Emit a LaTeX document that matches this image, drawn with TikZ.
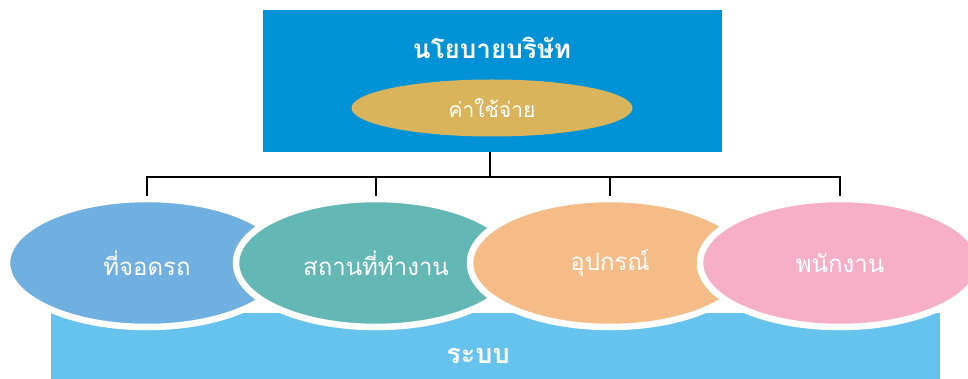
\documentclass[tikz,border=0pt]{standalone}
\usepackage{fontspec}
\newfontfamily\thaifont[Script=Thai]{Loma}
\usetikzlibrary{shapes.geometric}
\definecolor{policyblue}{RGB}{0,146,214}
\definecolor{costgold}{RGB}{218,180,90}
\definecolor{systemblue}{RGB}{102,195,238}
\definecolor{parkblue}{RGB}{112,176,224}
\definecolor{officeteal}{RGB}{99,183,180}
\definecolor{equiporange}{RGB}{245,188,135}
\definecolor{staffpink}{RGB}{247,175,200}
\tikzset{
  area/.style={ellipse,minimum width=280pt,minimum height=128pt,inner sep=0pt,
    draw=white,line width=6.5pt,text=white,font=\thaifont\fontsize{24}{28}\selectfont},
  link/.style={black,line width=1.6pt}
}

\begin{document}
\begin{tikzpicture}[x=1pt,y=-1pt]
\useasboundingbox (0,0) rectangle (968,379);
  % top box and bottom box
  \node[fill=policyblue,minimum width=459pt,minimum height=142pt,inner sep=0pt,anchor=north west] (policy) at (263,10) {};
  \node[text=white,font=\thaifont\bfseries\fontsize{26}{30}\selectfont] (policytext) at (492,48) {นโยบายบริษัท};
  \node[ellipse,fill=costgold,minimum width=281pt,minimum height=57pt,inner sep=0pt,
    text=white,font=\thaifont\fontsize{21}{26}\selectfont] (cost) at (492,108) {ค่าใช้จ่าย};
  \node[fill=systemblue,minimum width=889pt,minimum height=66pt,inner sep=0pt,anchor=north west] (system) at (51,313) {};
  \node[text=white,font=\thaifont\bfseries\fontsize{27}{30}\selectfont] (systemtext) at (478,356) {ระบบ};
  % the four areas
  \foreach \x/\c/\l/\n in
    {147/parkblue/ที่จอดรถ/parking,
     376/officeteal/สถานที่ทำงาน/office,
     610/equiporange/อุปกรณ์/equipment,
     840/staffpink/พนักงาน/staff}
    \node[area,fill=\c] (\n) at (\x,263) {\l};
  % connectors
  \coordinate (hub) at (490,177);
  \draw[link] (policy.south -| hub) -- (hub);
  \draw[link] (parking.north) -- (parking.north |- hub) -- (staff.north |- hub) -- (staff.north);
  \draw[link] (office.north) -- (office.north |- hub);
  \draw[link] (equipment.north) -- (equipment.north |- hub);
\end{tikzpicture}
\end{document}
